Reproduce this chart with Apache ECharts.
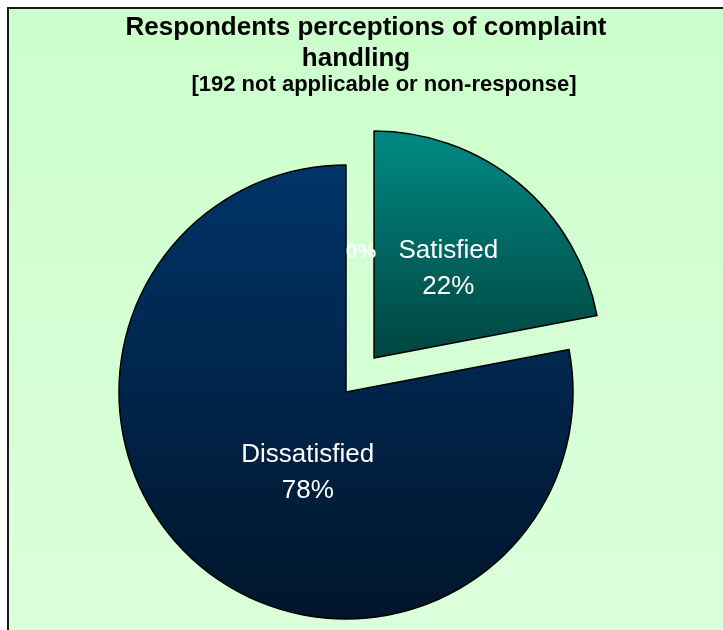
<!DOCTYPE html>
<html>
<head>
<meta charset="utf-8">
<script src="https://cdn.jsdelivr.net/npm/echarts@6/dist/echarts.min.js"></script>
<style>
  html, body { margin: 0; padding: 0; background: #ffffff; }
  #chart { width: 723px; height: 630px; }
</style>
</head>
<body>
<div id="chart"></div>
<script>
// Survey result: perceptions of complaint handling (percent of respondents)
const categories = ['Satisfied', 'Dissatisfied', 'Neutral'];
const shares = [22, 78, 0];
const titleLines = ['Respondents perceptions of complaint', 'handling'];
const subtitleText = '[192 not applicable or non-response]';

const FONT = '"Liberation Sans", Arial, sans-serif';

const sliceFills = [
  { type: 'linear', x: 0, y: 0, x2: 0, y2: 1,
    colorStops: [{ offset: 0, color: '#008a84' }, { offset: 1, color: '#00443f' }] },
  { type: 'linear', x: 0, y: 0, x2: 0, y2: 1,
    colorStops: [{ offset: 0, color: '#003468' }, { offset: 1, color: '#00152b' }] },
  '#4d7fb0'
];

const labelOffsets = [[-2, -2], [36, -9], [15, -23]];

const pieData = categories.map((name, i) => ({
  name: name,
  value: shares[i],
  selected: i === 0,
  itemStyle: {
    color: sliceFills[i],
    borderColor: '#000',
    borderWidth: shares[i] > 0 ? 1.5 : 0
  },
  label: shares[i] > 0 ? {
    formatter: '{b}\n{d}%',
    fontSize: 26,
    lineHeight: 36,
    fontWeight: 'normal',
    offset: labelOffsets[i]
  } : {
    formatter: '{d}%',
    fontSize: 21,
    fontWeight: 'bold',
    offset: labelOffsets[i]
  }
}));

const chart = echarts.init(document.getElementById('chart'), null, { renderer: 'canvas' });

chart.setOption({
  animation: false,
  backgroundColor: '#ffffff',
  graphic: [{
    type: 'rect',
    z: -10,
    silent: true,
    shape: { x: 8, y: 8, width: 730, height: 640 },
    style: {
      fill: {
        type: 'linear', x: 0, y: 0, x2: 0, y2: 1,
        colorStops: [{ offset: 0, color: '#ccffcc' }, { offset: 1, color: '#dcffdc' }]
      },
      stroke: '#1a1a1a',
      lineWidth: 2
    }
  }],
  title: [
    {
      text: titleLines[0], left: 366, top: 12, textAlign: 'center', padding: 0,
      textStyle: { fontFamily: FONT, fontSize: 26, fontWeight: 'bold', color: '#000', lineHeight: 31 }
    },
    {
      text: titleLines[1], left: 356, top: 43, textAlign: 'center', padding: 0,
      textStyle: { fontFamily: FONT, fontSize: 26, fontWeight: 'bold', color: '#000', lineHeight: 31 }
    },
    {
      text: subtitleText, left: 384, top: 73, textAlign: 'center', padding: 0,
      textStyle: { fontFamily: FONT, fontSize: 22, fontWeight: 'bold', color: '#000', lineHeight: 24 }
    }
  ],
  series: [{
    type: 'pie',
    center: [346, 392],
    radius: [0, 227],
    startAngle: 90,
    clockwise: true,
    selectedMode: 'single',
    selectedOffset: 44,
    avoidLabelOverlap: false,
    stillShowZeroSum: true,
    emphasis: { disabled: true },
    label: {
      show: true,
      position: 'inside',
      color: '#ffffff',
      fontFamily: FONT,
      align: 'center'
    },
    labelLine: { show: false },
    data: pieData
  }]
});
</script>
</body>
</html>
